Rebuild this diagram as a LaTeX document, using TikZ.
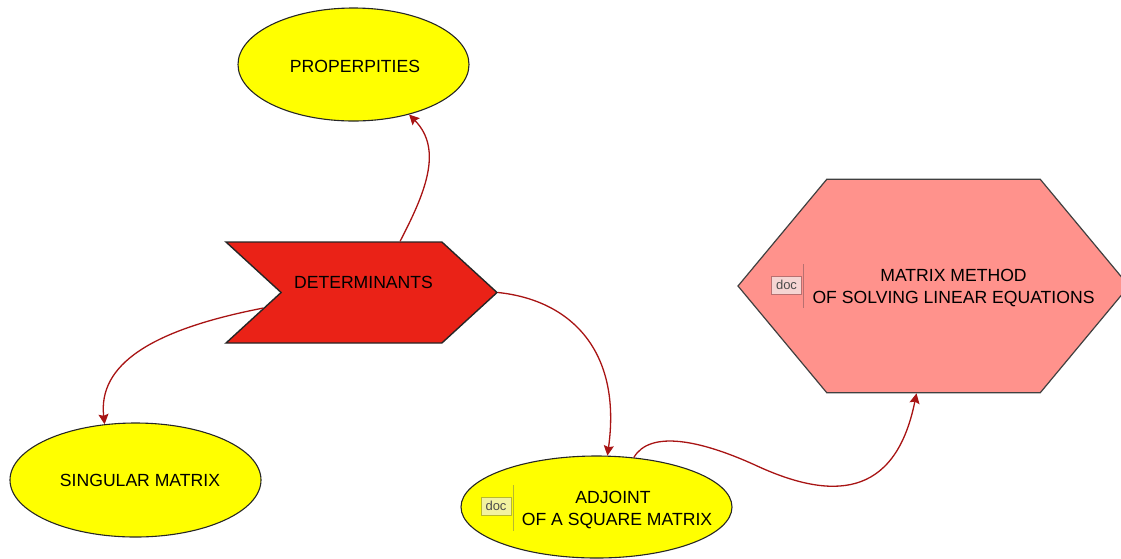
\documentclass[tikz,border=0pt]{standalone}
\usepackage{fontspec}
\setmainfont{Liberation Sans}
\usetikzlibrary{shapes.geometric,shapes.symbols,arrows.meta}

\definecolor{linkred}{HTML}{A81414}
\definecolor{chevronred}{HTML}{EA2217}
\definecolor{hexpink}{HTML}{FF928C}
\definecolor{topicyellow}{HTML}{FFFF00}
\definecolor{hexmark}{HTML}{B87070}
\definecolor{hexpaper}{HTML}{F5D5D3}
\definecolor{adjmark}{HTML}{B8B830}
\definecolor{adjpaper}{HTML}{F2F2A0}

\tikzset{
	topic/.style={ellipse,draw=black!85,line width=1.1pt,fill=topicyellow,inner sep=0pt},
	chevron/.style={signal,signal from=west,signal to=east,signal pointer angle=85,draw=black!85,line width=1.4pt,fill=chevronred,inner sep=0pt,minimum width=271pt,minimum height=101pt},
	hexa/.style={signal,signal from=nowhere,signal to=east and west,signal pointer angle=100.5,draw=black!75,line width=1.2pt,fill=hexpink,inner sep=0pt,minimum width=391pt,minimum height=213.5pt},
	caption/.style={font=\fontsize{17.6}{22}\selectfont,align=center,text=black,inner sep=0pt},
	link/.style={draw=linkred,line width=1.3pt,-{Stealth[length=10pt,width=10pt,inset=1.5pt]}},
	docbox/.style={rectangle,inner sep=0pt,minimum width=30pt,minimum height=18pt,line width=1pt,font=\fontsize{13}{14}\selectfont,text=black!70},
}

\begin{document}
\begin{tikzpicture}[x=1pt,y=-1pt]
	\clip (0,0) rectangle (1121,558);

	\draw (353.5,64.5) node (prop) [topic,minimum width=231pt,minimum height=113pt] {};
	\draw (135.5,480) node (sing) [topic,minimum width=251pt,minimum height=114pt] {};
	\draw (596.5,507) node (adj) [topic,minimum width=271pt,minimum height=102pt] {};
	\draw (361.5,292.5) node (det) [chevron] {};
	\draw (933.5,286) node (hex) [hexa] {};

	% connectors
	\draw[link] (det.53.8) .. controls (424,195) and (444,150) .. (prop.-42.8);
	\draw[link] (det.189) .. controls (150,330) and (98,365) .. (sing.119.7);
	\draw[link] (det.east) .. controls (570,300) and (622,350) .. (adj.78.3);
	\draw[link] (adj.53.4) .. controls (650,430) and (700,440) .. (755,465) .. controls (830,500) and (895,500) .. (hex.261.5);

	% labels
	\draw (355,66) node (proplabel) [caption] {PROPERPITIES};
	\draw (140,480) node (singlabel) [caption] {SINGULAR MATRIX};
	\draw (363.5,282) node (detlabel) [caption] {DETERMINANTS};
	\draw (953.5,288) node (hexlabel) [caption] {MATRIX METHOD\\OF SOLVING LINEAR EQUATIONS};
	\draw (617,510.5) node (adjlabel) [caption] {ADJOINT\hspace*{8pt}\\OF A SQUARE MATRIX};

	% doc marks
	\draw (786.5,285) node (hexdoc) [docbox,draw=hexmark,fill=hexpaper] {doc};
	\draw[hexmark,line width=1pt] (803,264) coordinate (hextop) -- (803,308) coordinate (hexbot);
	\draw (496,506) node (adjdoc) [docbox,draw=adjmark,fill=adjpaper] {doc};
	\draw[adjmark,line width=1pt] (513,485) coordinate (adjtop) -- (513,531) coordinate (adjbot);
\end{tikzpicture}
\end{document}
